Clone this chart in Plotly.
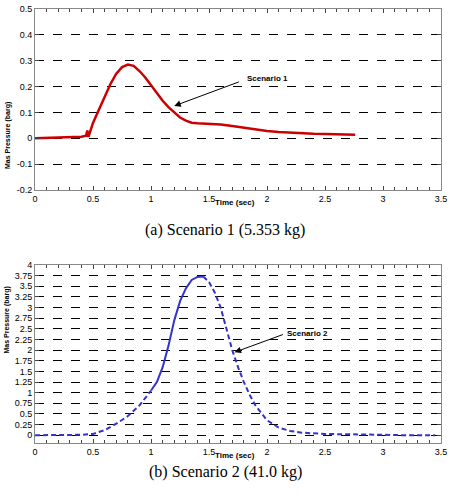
import plotly.graph_objects as go

# Scenario 1
t1 = [0, 0.2, 0.4, 0.44, 0.45, 0.46, 0.47, 0.5, 0.55, 0.6, 0.65, 0.7, 0.75, 0.8, 0.85, 0.9, 0.95, 1.0, 1.05, 1.1, 1.15, 1.2, 1.25, 1.3, 1.35, 1.4, 1.5, 1.6, 1.7, 1.8, 1.9, 2.0, 2.1, 2.2, 2.3, 2.4, 2.5, 2.6, 2.7, 2.76]
p1 = [0.0, 0.003, 0.006, 0.01, 0.03, 0.005, 0.02, 0.06, 0.11, 0.16, 0.21, 0.25, 0.275, 0.285, 0.28, 0.26, 0.235, 0.205, 0.175, 0.145, 0.12, 0.1, 0.08, 0.068, 0.06, 0.058, 0.055, 0.053, 0.047, 0.04, 0.033, 0.028, 0.024, 0.021, 0.019, 0.017, 0.016, 0.015, 0.014, 0.013]
# Scenario 2
t2_dash_a = [0, 0.2, 0.4, 0.5, 0.6, 0.7, 0.8, 0.9, 1.0]
p2_dash_a = [0.0, 0.0, 0.01, 0.03, 0.12, 0.27, 0.45, 0.7, 1.05]
t2_solid = [1.0, 1.05, 1.1, 1.15, 1.2, 1.25, 1.3, 1.35, 1.4, 1.45]
p2_solid = [1.05, 1.25, 1.6, 2.1, 2.7, 3.15, 3.45, 3.65, 3.72, 3.73]
t2_dash_b = [1.45, 1.5, 1.55, 1.6, 1.65, 1.7, 1.75, 1.8, 1.85, 1.9, 2.0, 2.1, 2.2, 2.3, 2.5, 2.7, 3.0, 3.2, 3.45]
p2_dash_b = [3.73, 3.6, 3.35, 3.0, 2.5, 2.0, 1.6, 1.25, 0.95, 0.7, 0.35, 0.18, 0.1, 0.06, 0.03, 0.015, 0.01, 0.0, 0.0]

yt1 = [-0.2, -0.1, 0, 0.1, 0.2, 0.3, 0.4, 0.5]
yt2 = [0, 0.25, 0.5, 0.75, 1, 1.25, 1.5, 1.75, 2, 2.25, 2.5, 2.75, 3, 3.25, 3.5, 3.75, 4]
xt = [0, 0.5, 1, 1.5, 2, 2.5, 3, 3.5]

fig = go.Figure()
fig.add_trace(go.Scatter(x=t1, y=p1, mode="lines", line=dict(color="#cc0000", width=2.5), xaxis="x", yaxis="y"))
fig.add_trace(go.Scatter(x=t2_dash_a, y=p2_dash_a, mode="lines", line=dict(color="#3333cc", width=2, dash="5px,3px"), xaxis="x2", yaxis="y2"))
fig.add_trace(go.Scatter(x=t2_solid, y=p2_solid, mode="lines", line=dict(color="#3333cc", width=2), xaxis="x2", yaxis="y2"))
fig.add_trace(go.Scatter(x=t2_dash_b, y=p2_dash_b, mode="lines", line=dict(color="#3333cc", width=2, dash="5px,3px"), xaxis="x2", yaxis="y2"))

ax = dict(showline=True, linecolor="#888", linewidth=1, mirror="allticks", ticks="inside", ticklen=4,
          tickfont=dict(family="Arial", size=9, color="black"), zeroline=False, automargin=False)
xax = dict(ax, range=[0, 3.5], tickvals=xt, ticktext=["0", "0.5", "1", "1.5", "2", "2.5", "3", "3.5"],
           showgrid=False, minor=dict(ticks="inside", ticklen=3, dtick=0.1, tickcolor="#444"))
yg = dict(ax, showgrid=True, gridcolor="black", griddash="dash", gridwidth=1)
fig.update_layout(
    width=450, height=501, plot_bgcolor="white", paper_bgcolor="white", showlegend=False,
    margin=dict(l=0, r=0, t=0, b=0),
    xaxis=dict(xax, domain=[0.078, 0.98], anchor="y"),
    yaxis=dict(yg, domain=[0.621, 0.982], range=[-0.2, 0.5], tickvals=yt1,
               ticktext=[str(v) for v in yt1], anchor="x"),
    xaxis2=dict(xax, domain=[0.078, 0.98], anchor="y2"),
    yaxis2=dict(yg, domain=[0.116, 0.471], range=[-0.18, 4], tickvals=yt2,
                ticktext=[("%g" % v) for v in yt2], anchor="x2"),
)
bold = dict(family="Arial", size=8, color="black")
lab = dict(family="Arial", size=7, color="black")
ann = [
    dict(text="<b>Time (sec)</b>", x=1.72, y=-0.2, xref="x", yref="y", yanchor="top", yshift=-6, showarrow=False, font=bold),
    dict(text="<b>Time (sec)</b>", x=1.72, y=-0.18, xref="x2", yref="y2", yanchor="top", yshift=-6, showarrow=False, font=bold),
    dict(text="<b>Mas Pressure (barg)</b>", x=0.003, y=0.80, xref="paper", yref="paper", xanchor="left", textangle=-90, showarrow=False, font=lab),
    dict(text="<b>Mas Pressure (barg)</b>", x=0.003, y=0.29, xref="paper", yref="paper", xanchor="left", textangle=-90, showarrow=False, font=lab),
    dict(text="(a) Scenario 1 (5.353 kg)", x=0.5, y=1 - 230 / 501, xref="paper", yref="paper", showarrow=False,
         font=dict(family="Liberation Serif", size=16, color="black")),
    dict(text="(b) Scenario 2 (41.0 kg)", x=0.5, y=1 - 483 / 501, xref="paper", yref="paper", showarrow=False,
         font=dict(family="Liberation Serif", size=16, color="black")),
    dict(text="<b>Scenario 1</b>", x=2.0, y=0.23, xref="x", yref="y", xanchor="center", showarrow=False, font=bold),
    dict(text="", x=1.2, y=0.125, ax=1.77, ay=0.22, xref="x", yref="y", axref="x", ayref="y",
         showarrow=True, arrowhead=2, arrowsize=1.3, arrowwidth=1, arrowcolor="black"),
    dict(text="<b>Scenario 2</b>", x=2.35, y=2.4, xref="x2", yref="y2", showarrow=False, font=bold),
    dict(text="", x=1.72, y=1.95, ax=2.15, ay=2.38, xref="x2", yref="y2", axref="x2", ayref="y2",
         showarrow=True, arrowhead=2, arrowsize=1.3, arrowwidth=1, arrowcolor="black"),
]
fig.update_layout(annotations=ann)
fig.write_html("out.html", config={"displayModeBar": False},
               post_script="document.body.style.margin='0';document.body.style.overflow='hidden';")
